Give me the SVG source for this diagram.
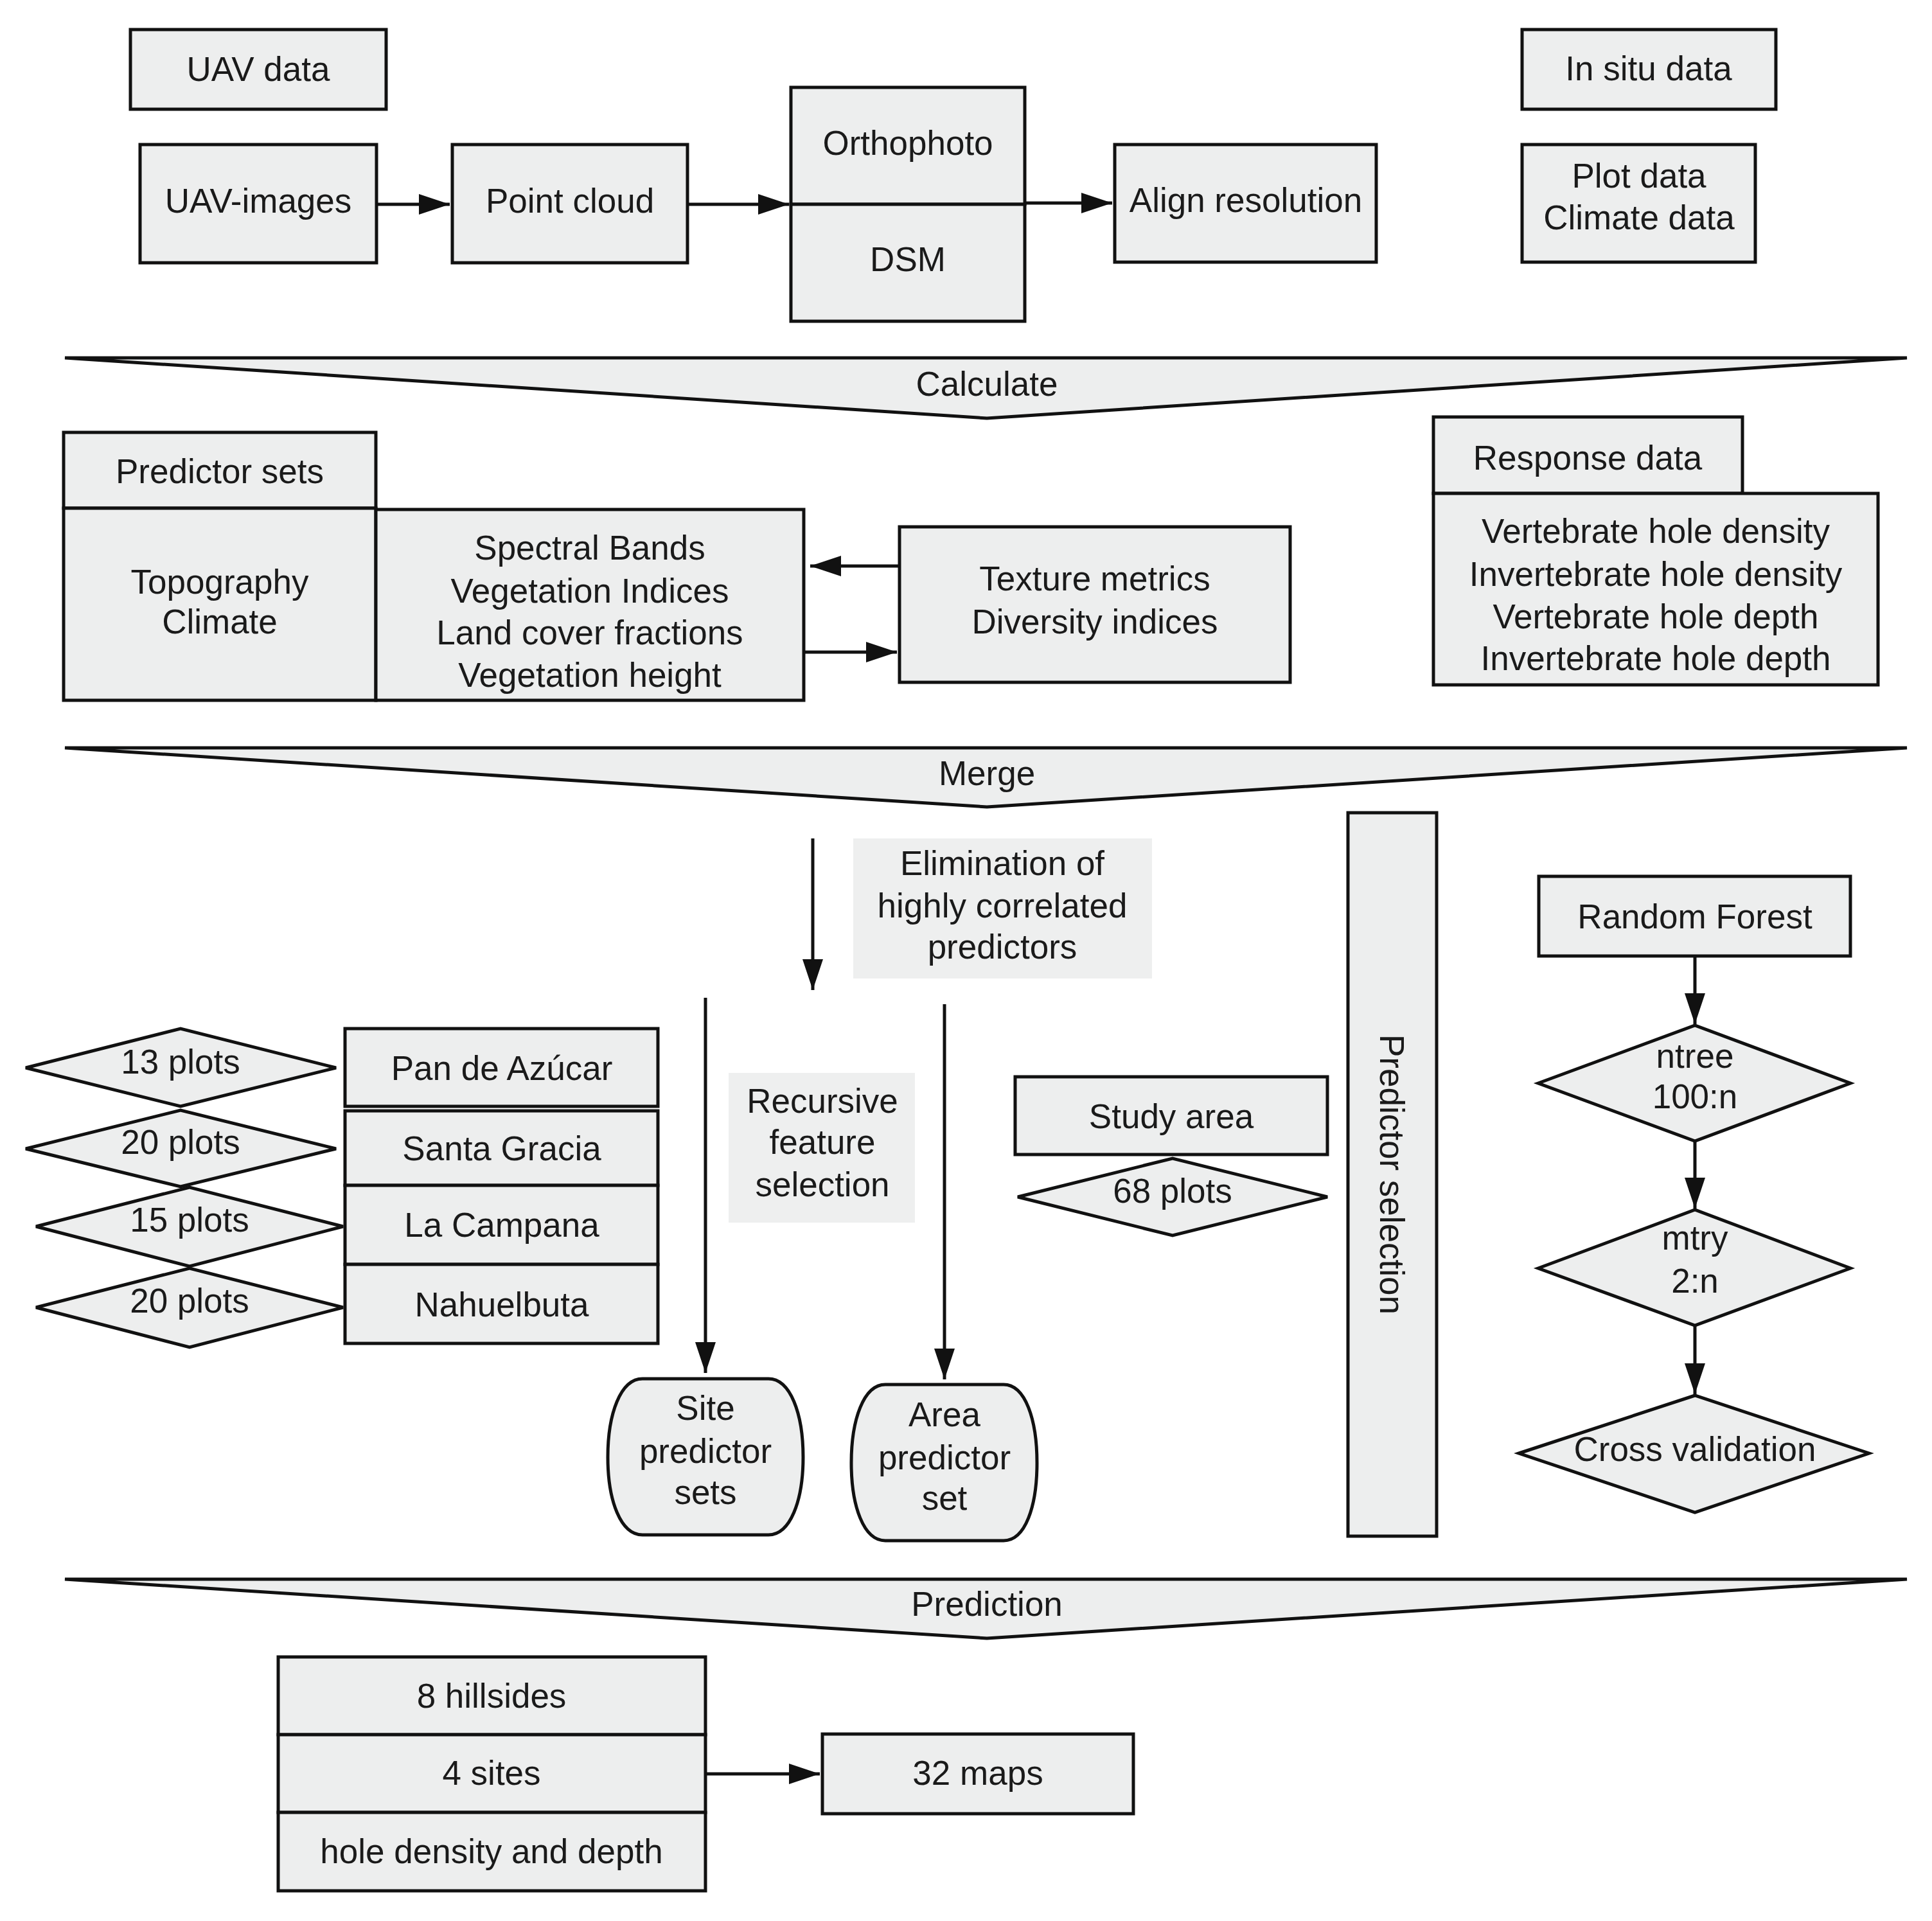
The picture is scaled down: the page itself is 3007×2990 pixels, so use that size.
<svg xmlns="http://www.w3.org/2000/svg" width="3007" height="2990" viewBox="0 0 3007 2990">
<defs>
<style>
.box{fill:#edeeee;stroke:#111;stroke-width:5}
.soft{fill:#eeefef;stroke:none}
.ban{fill:#edeeee;stroke:#111;stroke-width:5;stroke-linejoin:miter}
.t{font-family:"Liberation Sans",Arial,sans-serif;font-size:53px;text-anchor:middle;fill:#1a1a1a}
.c{stroke:#111;stroke-width:5;fill:none;marker-end:url(#ah)}
</style>
<marker id="ah" markerUnits="userSpaceOnUse" markerWidth="48" markerHeight="32" refX="48" refY="16" orient="auto">
<path d="M0,0 L48,16 L0,32 z" fill="#111"/>
</marker>
</defs>
<rect width="3007" height="2990" fill="#ffffff"/>

<g id="connectors">
<line class="c" x1="586" y1="318" x2="700" y2="318"/>
<line class="c" x1="1070" y1="318" x2="1228" y2="318"/>
<line class="c" x1="1595" y1="316" x2="1731" y2="316"/>
<line class="c" x1="1400" y1="881" x2="1261" y2="881"/>
<line class="c" x1="1251" y1="1015" x2="1396" y2="1015"/>
<line class="c" x1="1265" y1="1305" x2="1265" y2="1541"/>
<line class="c" x1="1098" y1="1553" x2="1098" y2="2137"/>
<line class="c" x1="1470" y1="1563" x2="1470" y2="2147"/>
<line class="c" x1="2638" y1="1488" x2="2638" y2="1594"/>
<line class="c" x1="2638" y1="1776" x2="2638" y2="1881"/>
<line class="c" x1="2638" y1="2063" x2="2638" y2="2170"/>
<line class="c" x1="1098" y1="2761" x2="1276" y2="2761"/>
</g>

<g id="uav-data"><rect class="box" x="203" y="46" width="398" height="124"/><text class="t" x="402" y="126">UAV data</text></g>
<g id="uav-images"><rect class="box" x="218" y="225" width="368" height="184"/><text class="t" x="402" y="331">UAV-images</text></g>
<g id="point-cloud"><rect class="box" x="704" y="225" width="366" height="184"/><text class="t" x="887" y="331">Point cloud</text></g>
<g id="ortho-dsm"><rect class="box" x="1231" y="136" width="364" height="182"/><rect class="box" x="1231" y="318" width="364" height="182"/><text class="t" x="1413" y="241">Orthophoto</text><text class="t" x="1413" y="422">DSM</text></g>
<g id="align"><rect class="box" x="1735" y="225" width="407" height="183"/><text class="t" x="1939" y="330">Align resolution</text></g>
<g id="in-situ"><rect class="box" x="2369" y="46" width="395" height="124"/><text class="t" x="2566" y="125">In situ data</text></g>
<g id="plot-climate"><rect class="box" x="2369" y="225" width="363" height="183"/><text class="t" x="2551" y="292">Plot data</text><text class="t" x="2551" y="357">Climate data</text></g>

<g id="calculate"><polygon class="ban" points="101,557 2968,557 1536,651"/><text class="t" x="1536" y="616">Calculate</text></g>

<g id="predictor-sets">
<rect class="box" x="99" y="673" width="486" height="118"/><text class="t" x="342" y="752">Predictor sets</text>
<rect class="box" x="99" y="791" width="486" height="299"/><text class="t" x="342" y="924">Topography</text><text class="t" x="342" y="986">Climate</text>
<rect class="box" x="585" y="793" width="666" height="297"/>
<text class="t" x="918" y="871">Spectral Bands</text><text class="t" x="918" y="938">Vegetation Indices</text><text class="t" x="918" y="1003">Land cover fractions</text><text class="t" x="918" y="1069">Vegetation height</text>
</g>
<g id="texture"><rect class="box" x="1400" y="820" width="608" height="242"/><text class="t" x="1704" y="919">Texture metrics</text><text class="t" x="1704" y="986">Diversity indices</text></g>
<g id="response">
<rect class="box" x="2231" y="649" width="481" height="119"/><text class="t" x="2471" y="731">Response data</text>
<rect class="box" x="2231" y="768" width="692" height="298"/>
<text class="t" x="2577" y="845">Vertebrate hole density</text><text class="t" x="2577" y="912">Invertebrate hole density</text><text class="t" x="2577" y="978">Vertebrate hole depth</text><text class="t" x="2577" y="1043">Invertebrate hole depth</text>
</g>

<g id="merge"><polygon class="ban" points="101,1164 2968,1164 1536,1256"/><text class="t" x="1536" y="1222">Merge</text></g>

<g id="elimination"><rect class="soft" x="1328" y="1305" width="465" height="218"/><text class="t" x="1560" y="1362">Elimination of</text><text class="t" x="1560" y="1428">highly correlated</text><text class="t" x="1560" y="1492">predictors</text></g>
<g id="recursive"><rect class="soft" x="1134" y="1670" width="290" height="233"/><text class="t" x="1280" y="1732">Recursive</text><text class="t" x="1280" y="1796">feature</text><text class="t" x="1280" y="1862">selection</text></g>

<g id="plots-13"><polygon class="box" points="40,1662 281,1601 523,1662 281,1722"/><text class="t" x="281" y="1671">13 plots</text></g>
<g id="plots-20a"><polygon class="box" points="40,1788 281,1728 523,1788 281,1847"/><text class="t" x="281" y="1796">20 plots</text></g>
<g id="plots-15"><polygon class="box" points="56,1909 295,1848 534,1909 295,1971"/><text class="t" x="295" y="1917">15 plots</text></g>
<g id="plots-20b"><polygon class="box" points="56,2035 295,1974 534,2035 295,2097"/><text class="t" x="295" y="2043">20 plots</text></g>

<g id="pan-de-azucar"><rect class="box" x="537" y="1601" width="487" height="121"/><text class="t" x="781" y="1681">Pan de Azúcar</text></g>
<g id="santa-gracia"><rect class="box" x="537" y="1729" width="487" height="116"/><text class="t" x="781" y="1806">Santa Gracia</text></g>
<g id="la-campana"><rect class="box" x="537" y="1845" width="487" height="123"/><text class="t" x="781" y="1925">La Campana</text></g>
<g id="nahuelbuta"><rect class="box" x="537" y="1968" width="487" height="123"/><text class="t" x="781" y="2049">Nahuelbuta</text></g>

<g id="site-predictor"><path class="box" d="M1000,2146 H1196 C1230,2146 1250,2200 1250,2268 C1250,2336 1230,2389 1196,2389 H1000 C966,2389 946,2336 946,2268 C946,2200 966,2146 1000,2146 Z"/><text class="t" x="1098" y="2210">Site</text><text class="t" x="1098" y="2277">predictor</text><text class="t" x="1098" y="2341">sets</text></g>
<g id="area-predictor"><path class="box" d="M1378,2155 H1562 C1596,2155 1614,2210 1614,2277 C1614,2344 1596,2398 1562,2398 H1378 C1344,2398 1325,2344 1325,2277 C1325,2210 1344,2155 1378,2155 Z"/><text class="t" x="1470" y="2220">Area</text><text class="t" x="1470" y="2287">predictor</text><text class="t" x="1470" y="2350">set</text></g>

<g id="study-area"><rect class="box" x="1580" y="1676" width="486" height="121"/><text class="t" x="1823" y="1756">Study area</text></g>
<g id="plots-68"><polygon class="box" points="1584,1863 1825,1803 2066,1863 1825,1923"/><text class="t" x="1825" y="1872">68 plots</text></g>

<g id="predictor-selection"><rect class="box" x="2098" y="1265" width="138" height="1126"/><text class="t" transform="translate(2167,1828) rotate(90)" x="0" y="19">Predictor selection</text></g>

<g id="random-forest"><rect class="box" x="2395" y="1364" width="485" height="124"/><text class="t" x="2638" y="1445">Random Forest</text></g>
<g id="ntree"><polygon class="box" points="2394,1686 2638,1596 2880,1686 2638,1776"/><text class="t" x="2638" y="1662">ntree</text><text class="t" x="2638" y="1725">100:n</text></g>
<g id="mtry"><polygon class="box" points="2394,1974 2638,1883 2880,1974 2638,2063"/><text class="t" x="2638" y="1945">mtry</text><text class="t" x="2638" y="2012">2:n</text></g>
<g id="cross-validation"><polygon class="box" points="2364,2262 2638,2172 2909,2262 2638,2354"/><text class="t" x="2638" y="2274">Cross validation</text></g>

<g id="prediction"><polygon class="ban" points="101,2458 2968,2458 1536,2550"/><text class="t" x="1536" y="2515">Prediction</text></g>

<g id="outputs">
<rect class="box" x="433" y="2579" width="665" height="121"/><text class="t" x="765" y="2658">8 hillsides</text>
<rect class="box" x="433" y="2700" width="665" height="121"/><text class="t" x="765" y="2778">4 sites</text>
<rect class="box" x="433" y="2821" width="665" height="122"/><text class="t" x="765" y="2900">hole density and depth</text>
</g>
<g id="maps"><rect class="box" x="1280" y="2699" width="484" height="124"/><text class="t" x="1522" y="2778">32 maps</text></g>
</svg>
